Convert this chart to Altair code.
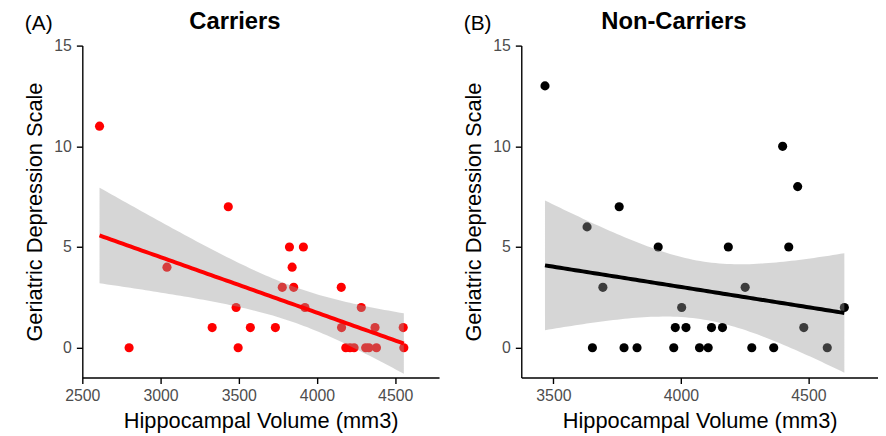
import altair as alt
import pandas as pd
import numpy as np

# Carriers (panel A)
car_x = [2610, 2799, 3041, 3433, 3330, 3483, 3496, 3574, 3734, 3778, 3824, 3841, 3851,
         3913, 3923, 4155, 4157, 4184, 4211, 4237, 4283, 4311, 4332, 4380, 4371, 4551, 4555]
car_y = [11, 0, 4, 7, 1, 2, 0, 1, 1, 3, 5, 4, 3, 5, 2, 3, 1, 0, 0, 0, 2, 0, 0, 0, 1, 1, 0]

# Non-carriers (panel B)
non_x = [3467, 3632, 3653, 3694, 3758, 3777, 3828, 3911, 3972, 3978, 4003, 4020, 4073,
         4107, 4120, 4163, 4186, 4252, 4278, 4364, 4399, 4423, 4458, 4482, 4574, 4641]
non_y = [13, 6, 0, 3, 7, 0, 0, 5, 0, 1, 2, 1, 0, 0, 1, 1, 5, 3, 0, 0, 10, 5, 8, 1, 0, 2]

car_xticks = [2500, 3000, 3500, 4000, 4500]
non_xticks = [3500, 4000, 4500]
y_ticks = [0, 5, 10, 15]
titles = ["Carriers", "Non-Carriers"]
tags = ["(A)", "(B)"]

FONT = "Liberation Sans"
W, H = 360, 335


def fit(xs, ys, tcrit):
    x = np.array(xs, float)
    y = np.array(ys, float)
    n = len(x)
    b, a = np.polyfit(x, y, 1)
    res = y - (a + b * x)
    s = np.sqrt((res ** 2).sum() / (n - 2))
    xbar = x.mean()
    sxx = ((x - xbar) ** 2).sum()
    g = np.linspace(x.min(), x.max(), 80)
    fv = a + b * g
    se = s * np.sqrt(1.0 / n + (g - xbar) ** 2 / sxx)
    return pd.DataFrame({"x": g, "fit": fv, "lo": fv - tcrit * se, "hi": fv + tcrit * se})


def panel(xs, ys, color, title, tag, xdom, xticks, tcrit):
    pts = pd.DataFrame({"x": xs, "y": ys})
    sm = fit(xs, ys, tcrit)
    xsc = alt.Scale(domain=xdom, nice=False, zero=False)
    ysc = alt.Scale(domain=[-1.48, 15], nice=False, zero=False)
    xax = alt.Axis(values=xticks, title="Hippocampal Volume (mm3)", format="d", labelFlush=False)
    yax = alt.Axis(values=y_ticks, title="Geriatric Depression Scale", labelFlush=False)
    points = alt.Chart(pts).mark_circle(size=85, opacity=1, color=color).encode(
        x=alt.X("x:Q", scale=xsc, axis=xax),
        y=alt.Y("y:Q", scale=ysc, axis=yax),
    )
    band = alt.Chart(sm).mark_area(color="#999999", opacity=0.4).encode(
        x=alt.X("x:Q", scale=xsc, axis=xax),
        y=alt.Y("lo:Q", scale=ysc, axis=yax),
        y2="hi:Q",
    )
    line = alt.Chart(sm).mark_line(color=color, strokeWidth=4).encode(
        x=alt.X("x:Q", scale=xsc, axis=xax),
        y=alt.Y("fit:Q", scale=ysc, axis=yax),
    )
    lab = alt.Chart(pd.DataFrame({"t": [tag]})).mark_text(
        align="left", baseline="top", fontSize=21, font=FONT, color="black"
    ).encode(x=alt.value(-58), y=alt.value(-33), text="t:N")
    ttl = alt.Chart(pd.DataFrame({"t": [title]})).mark_text(
        align="center", baseline="top", fontSize=24, fontWeight="bold",
        font=FONT, color="black"
    ).encode(x=alt.value(W / 2 - 26), y=alt.value(-36), text="t:N")
    return alt.layer(points, band, line, lab, ttl).properties(width=W, height=H)


left = panel(car_x, car_y, "#FF0000", titles[0], tags[0], [2500, 4780], car_xticks, 2.0595)
right = panel(non_x, non_y, "#000000", titles[1], tags[1], [3374, 4773], non_xticks, 2.0639)

chart = alt.hconcat(left, right, spacing=83, bounds="flush").properties(
    padding={"left": 16, "top": 0, "right": 0, "bottom": 0}
).configure_view(stroke=None).configure_axis(
    grid=False, labelFont=FONT, titleFont=FONT, labelFontSize=16, labelColor="#4d4d4d",
    titleFontSize=22, titleFontWeight="normal", titleColor="black",
    domainColor="black", domainWidth=1.4, tickColor="black", tickWidth=1.4, tickSize=6,
    labelPadding=4,
).configure_axisY(titlePadding=7, labelPadding=5).configure_axisX(titlePadding=7)

chart.save("out.html", embed_options={"renderer": "svg", "actions": False})
